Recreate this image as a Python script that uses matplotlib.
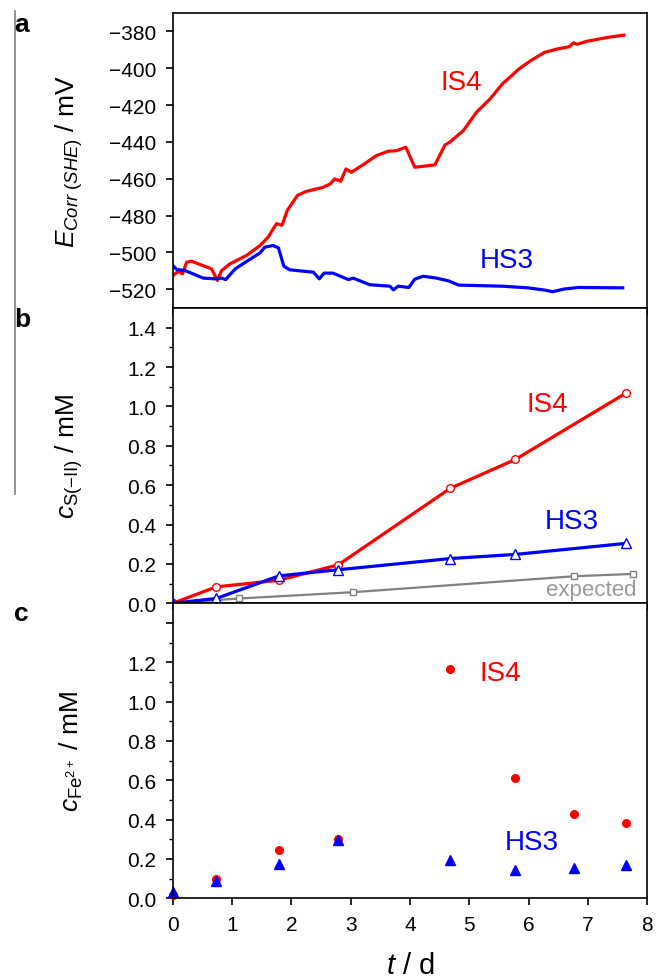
import matplotlib
matplotlib.use("Agg")
import matplotlib.pyplot as plt
from matplotlib.lines import Line2D

plt.rcParams["font.family"] = ["Liberation Sans", "DejaVu Sans"]
plt.rcParams["mathtext.fontset"] = "custom"
plt.rcParams["mathtext.rm"] = "Liberation Sans"
plt.rcParams["mathtext.it"] = "Liberation Sans:italic"
plt.rcParams["mathtext.bf"] = "Liberation Sans:bold"

# panel a: corrosion potential vs time
t_is4_e = [0, 0.09, 0.16, 0.23, 0.31, 0.65, 0.75, 0.82, 0.96, 1.24, 1.47, 1.61, 1.69,
           1.75, 1.84, 1.93, 2.10, 2.25, 2.53, 2.65, 2.73, 2.83, 2.92, 3.01, 3.21, 3.43,
           3.63, 3.77, 3.93, 4.08, 4.42, 4.59, 4.67, 4.90, 5.12, 5.35, 5.56, 5.85, 6.06,
           6.27, 6.48, 6.69, 6.76, 6.82, 6.98, 7.33, 7.61]
e_is4 = [-512.6, -510.4, -511.7, -505.4, -504.8, -509.0, -515.3, -509.9, -506.3, -501.7,
         -496.3, -491.6, -487.3, -484.4, -485.3, -477.2, -469.1, -466.9, -464.7, -462.9,
         -460.1, -461.4, -454.7, -456.5, -452.4, -447.5, -445.1, -444.8, -442.9, -453.8,
         -452.5, -441.7, -440.2, -433.9, -424.0, -416.7, -408.5, -400.1, -395.4, -391.4,
         -389.6, -388.3, -386.2, -387.0, -385.4, -383.3, -382.0]

t_hs3_e = [0, 0.06, 0.20, 0.34, 0.51, 0.71, 0.82, 0.89, 1.05, 1.24, 1.47, 1.55, 1.69,
           1.78, 1.87, 1.97, 2.37, 2.47, 2.55, 2.70, 2.96, 3.04, 3.32, 3.66, 3.72, 3.80,
           3.98, 4.08, 4.22, 4.43, 4.65, 4.82, 5.56, 5.99, 6.27, 6.41, 6.59, 6.84, 7.59]
e_hs3 = [-507.2, -509.3, -509.9, -511.7, -514.0, -514.4, -514.0, -514.8, -509.0, -505.0,
         -500.3, -497.2, -496.3, -497.6, -507.5, -509.5, -510.8, -514.4, -511.3, -511.3,
         -514.8, -514.0, -517.6, -518.4, -520.4, -518.4, -519.1, -514.6, -513.0, -513.9,
         -515.5, -517.8, -518.4, -519.3, -520.5, -521.4, -520.0, -519.1, -519.3]

# panel b: sulfide concentration
t_sulfide = [0, 0.73, 1.79, 2.79, 4.68, 5.78, 7.64]
s_is4 = [0, 0.083, 0.117, 0.195, 0.584, 0.731, 1.067]
s_hs3 = [0, 0.024, 0.139, 0.170, 0.227, 0.248, 0.304]
t_expected = [0, 1.12, 3.04, 6.77, 7.77]
s_expected = [0, 0.024, 0.056, 0.137, 0.149]

# panel c: Fe2+ concentration
t_iron = [0, 0.73, 1.79, 2.79, 4.68, 5.78, 6.77, 7.64]
fe_is4 = [0.017, 0.100, 0.247, 0.300, 1.166, 0.610, 0.429, 0.381]
fe_hs3 = [0.034, 0.090, 0.175, 0.295, 0.197, 0.144, 0.156, 0.171]

RED = "#ff0000"
BLUE = "#0000ff"
GREY = "#808080"

fig, (ax1, ax2, ax3) = plt.subplots(3, 1, figsize=(6.56, 9.79), dpi=100, sharex=True)
fig.subplots_adjust(left=0.2637, right=0.9863, top=0.9857, bottom=0.0814, hspace=0)

ax1.plot(t_is4_e, e_is4, color=RED, lw=2.3)
ax1.plot(t_hs3_e, e_hs3, color=BLUE, lw=2.3)
ax1.set_ylim(-530.3, -370)
ax1.set_yticks(range(-520, -379, 20))
ax1.set_yticklabels([f"\u2212{abs(v)}" for v in range(-520, -379, 20)])
ax1.text(4.86, -407.6, "IS4", color=RED, fontsize=20, ha="center", va="center")
ax1.text(5.64, -504.3, "HS3", color=BLUE, fontsize=20, ha="center", va="center")
ax1.set_ylabel(r"$E_{Corr\ (SHE)}$ / mV", fontsize=19)

ax2.plot(t_expected, s_expected, "s-", color=GREY, lw=1.6, ms=5,
         mfc="white", mec=GREY, mew=1.0)
ax2.plot(t_sulfide, s_is4, "o-", color=RED, lw=2.3, ms=5.5, mfc="white", mec=RED, mew=1.0)
ax2.plot(t_sulfide, s_hs3, "^-", color=BLUE, lw=2.3, ms=6.5, mfc="white", mec=BLUE, mew=1.0)
ax2.set_ylim(0, 1.5)
ax2.set_yticks([0, 0.2, 0.4, 0.6, 0.8, 1.0, 1.2, 1.4])
ax2.set_yticks([0.1, 0.3, 0.5, 0.7, 0.9, 1.1, 1.3], minor=True)
ax2.text(6.31, 1.013, "IS4", color=RED, fontsize=20, ha="center", va="center")
ax2.text(6.73, 0.419, "HS3", color=BLUE, fontsize=20, ha="center", va="center")
ax2.text(7.83, 0.04, "expected", color="#999999", fontsize=16, ha="right", va="baseline")
ax2.set_ylabel(r"$c_{\mathrm{S(-II)}}$ / mM", fontsize=19)

ax3.plot(t_iron, fe_is4, "o", color=RED, ms=5.5, clip_on=False)
ax3.plot(t_iron, fe_hs3, "^", color=BLUE, ms=6.5, clip_on=False)
ax3.set_ylim(0, 1.5)
ax3.set_yticks([0, 0.2, 0.4, 0.6, 0.8, 1.0, 1.2, 1.4])
ax3.set_yticklabels(["0.0", "0.2", "0.4", "0.6", "0.8", "1.0", "1.2", ""])
ax3.set_yticks([0.1, 0.3, 0.5, 0.7, 0.9, 1.1, 1.3], minor=True)
ax3.text(5.53, 1.146, "IS4", color=RED, fontsize=20, ha="center", va="center")
ax3.text(6.06, 0.285, "HS3", color=BLUE, fontsize=20, ha="center", va="center")
ax3.set_ylabel(r"$c_{\mathrm{Fe^{2+}}}$ / mM", fontsize=19)
ax3.set_xlabel(r"$t$ / d", fontsize=21, labelpad=12)

ax3.set_xlim(0, 8)
ax3.set_xticks(range(0, 9))

for ax in (ax1, ax2, ax3):
    for sp in ax.spines.values():
        sp.set_linewidth(1.2)
    ax.tick_params(which="major", direction="out", length=5, width=1.2, labelsize=15, pad=7)
    ax.tick_params(which="minor", direction="out", length=3, width=1.0)
    ax.yaxis.set_label_coords(-0.185, 0.5)

# panel letters
fig.text(0.022, 1 - 32 / 979, "a", fontsize=19, fontweight="bold", va="baseline")
fig.text(0.022, 1 - 327 / 979, "b", fontsize=19, fontweight="bold", va="baseline")
fig.text(0.022, 1 - 621 / 979, "c", fontsize=19, fontweight="bold", va="baseline")

# grey bar on the left edge of the source image
fig.add_artist(Line2D([15 / 656, 15 / 656], [1 - 12 / 979, 1 - 495 / 979],
                      color="#888888", lw=1.3))

fig.savefig("out.png", dpi=100)
